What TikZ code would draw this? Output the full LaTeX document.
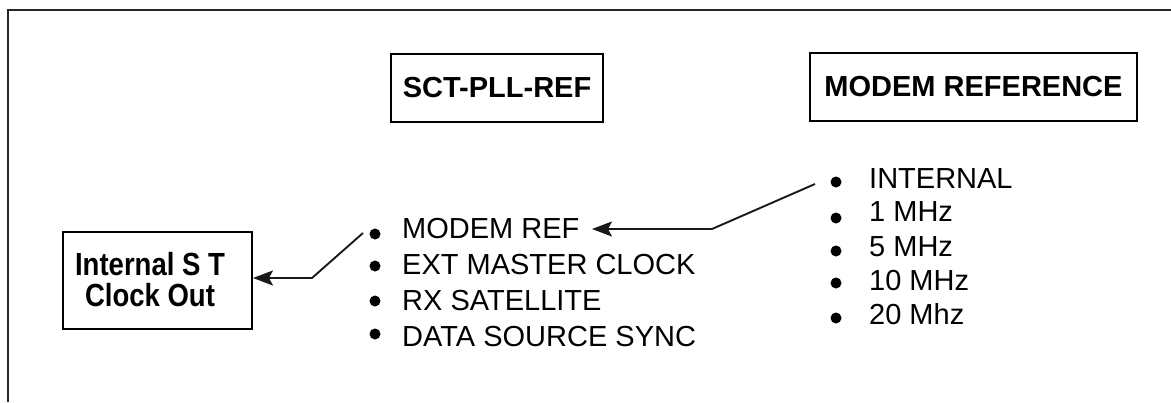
\documentclass[tikz,border=0pt]{standalone}
\usepackage{fontspec}
\setmainfont{Liberation Sans}
\newfontfamily\boxfont[FakeStretch=0.86]{Liberation Sans}
\usetikzlibrary{arrows.meta}

\tikzset{
  frame/.style={line width=1.5pt, draw=black!85},
  heading/.style={draw, line width=2pt, font=\fontsize{29}{34}\selectfont\bfseries, inner sep=0pt},
  boxlabel/.style={inner sep=0pt, align=center, font=\boxfont\fontsize{32}{31}\selectfont\bfseries},
  item/.style={anchor=base west, inner sep=0pt, font=\fontsize{29}{34}\selectfont},
  dot/.style={circle, fill=black, inner sep=0pt, minimum size=11pt},
  link/.style={line width=1.9pt, draw=black!90},
  tip/.style={-{Stealth[length=20pt, width=15pt, inset=4pt]}}
}

\begin{document}
\begin{tikzpicture}[x=1pt, y=-1pt]
  \useasboundingbox (0,0) rectangle (1171,402);

  % open frame: left and top edges
  \draw[frame] (8,402) -- (8,10) -- (1171,10);

  % headings
  \node[heading, minimum width=212pt, minimum height=68pt] (pll) at (497,88) {SCT-PLL-REF};
  \node[heading, minimum width=327pt, minimum height=68pt] (mref) at (973.5,87) {MODEM REFERENCE};

  % output box and its label
  \node[heading, minimum width=189pt, minimum height=97pt] (clk) at (157.5,280.5) {};
  \node[boxlabel] (clkt) at (150,280) {Internal S T\\Clock Out};

  % SCT-PLL-REF choices
  \node[dot] (p1) at (375,234) {};
  \node[dot] (p2) at (375,266) {};
  \node[dot] (p3) at (375,301) {};
  \node[dot] (p4) at (375,334) {};
  \node[item] (t1) at (402,238) {MODEM REF};
  \node[item] (t2) at (402,274) {EXT MASTER CLOCK};
  \node[item] (t3) at (402,310) {RX SATELLITE};
  \node[item] (t4) at (402,346) {DATA SOURCE SYNC};

  % modem reference choices
  \node[dot] (m1) at (836,182) {};
  \node[dot] (m2) at (836,218) {};
  \node[dot] (m3) at (836,251) {};
  \node[dot] (m4) at (836,283) {};
  \node[dot] (m5) at (836,318) {};
  \node[item] (r1) at (869,188) {INTERNAL};
  \node[item] (r2) at (869,221) {1 MHz};
  \node[item] (r3) at (869,256) {5 MHz};
  \node[item] (r4) at (869,290) {10 MHz};
  \node[item] (r5) at (869,324) {20 Mhz};

  % switch arms
  \coordinate (s1) at (363,233);
  \coordinate (k1) at (312,278);
  \draw[link, tip] (s1) -- (k1) -- (k1 -| clk.east);

  \coordinate (s2) at (815,184);
  \coordinate (k2) at (712,229);
  \coordinate (e2) at (592,229);
  \draw[link, tip] (s2) -- (k2) -- (e2);
\end{tikzpicture}
\end{document}
